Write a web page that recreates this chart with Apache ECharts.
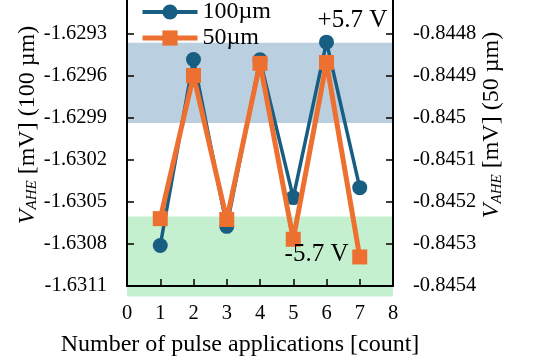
<!DOCTYPE html>
<html>
<head>
<meta charset="utf-8">
<script src="https://cdn.jsdelivr.net/npm/echarts@6/dist/echarts.min.js"></script>
<style>html,body{margin:0;padding:0;background:#fff}#c{width:536px;height:358px}</style>
</head>
<body>
<div id="c"></div>
<script>
const counts = [1, 2, 3, 4, 5, 6, 7];
const v100 = [-1.630811, -1.629486, -1.630675, -1.629487, -1.630470, -1.629362, -1.630399];
const v50 = [-0.845240, -0.844900, -0.845242, -0.844871, -0.845289, -0.844869, -0.845331];
const seriesNames = ['100\u00b5m', '50\u00b5m'];
// bands on the left axis: [xStart, xEnd, yLow, yHigh]
const bands = [
  [0, 8, -1.629938, -1.629367],
  [0, 8, -1.631175, -1.630604]
];
const bandColors = ['#bacfe0', '#c5f0cf'];
const notes = [
  {text: '+5.7 V', x: 6.78, y: -1.629205},
  {text: '-5.7 V', x: 5.70, y: -1.630875}
];
const leftAxis = {min: -1.6311, max: -1.628805, interval: 0.0003};
const rightAxis = {min: -0.8454, max: -0.844635, interval: 0.0001};

const FONT = 'Liberation Serif';
const BLUE = '#175e82', ORANGE = '#ed7031';
const chart = echarts.init(document.getElementById('c'));
const axisCommon = {
  axisLine: {show: true, lineStyle: {color: '#000', width: 2}},
  axisTick: {show: true, inside: true, length: 7, lineStyle: {color: '#000', width: 1.5}},
  splitLine: {show: false},
  axisLabel: {color: '#000', fontFamily: FONT, fontSize: 20.5, margin: 20, showMaxLabel: false},
  z: 5
};
const nameRich = {
  i: {fontStyle: 'italic', fontFamily: FONT, fontSize: 24, color: '#000'},
  sub: {fontStyle: 'italic', fontFamily: FONT, fontSize: 15, color: '#000', verticalAlign: 'bottom', padding: [8, 0, 0, 0]},
  n: {fontFamily: FONT, fontSize: 24, color: '#000'}
};
chart.setOption({
  animation: false,
  grid: {left: 127, right: 143, top: -36, bottom: 72, containLabel: false, outerBoundsMode: 'none'},
  legend: {
    orient: 'vertical', left: 135, top: -5, itemWidth: 55, itemHeight: 19, itemGap: 2,
    data: [
      {name: seriesNames[0], lineStyle: {width: 4, color: BLUE}},
      {name: seriesNames[1], lineStyle: {width: 5, color: ORANGE}}
    ],
    textStyle: {fontFamily: FONT, fontSize: 24, color: '#000', lineHeight: 24}
  },
  xAxis: Object.assign({}, axisCommon, {
    type: 'value', min: 0, max: 8, interval: 1,
    axisLabel: {color: '#000', fontFamily: FONT, fontSize: 20.5, margin: 17},
    name: 'Number of pulse applications [count]', nameLocation: 'middle', nameGap: 47,
    nameTextStyle: {fontFamily: FONT, fontSize: 24, color: '#000', padding: [0, 40, 0, 0]}
  }),
  yAxis: [
    Object.assign({}, axisCommon, {
      type: 'value', position: 'left', min: leftAxis.min, max: leftAxis.max, interval: leftAxis.interval,
      name: '{i|V}{sub|AHE}{n| [mV] (100 \u00b5m)}', nameLocation: 'middle', nameGap: 86,
      nameTextStyle: {rich: nameRich}
    }),
    Object.assign({}, axisCommon, {
      type: 'value', position: 'right', min: rightAxis.min, max: rightAxis.max, interval: rightAxis.interval,
      name: '{i|V}{sub|AHE}{n| [mV] (50 \u00b5m)}', nameLocation: 'middle', nameGap: 76,
      nameTextStyle: {rich: nameRich}
    })
  ],
  series: [
    {
      type: 'custom', yAxisIndex: 0, clip: false, z: 1, silent: true,
      data: bands,
      renderItem: function (params, api) {
        const p0 = api.coord([api.value(0), api.value(3)]);
        const p1 = api.coord([api.value(1), api.value(2)]);
        return {type: 'rect', shape: {x: p0[0], y: p0[1], width: p1[0] - p0[0], height: p1[1] - p0[1]},
          style: {fill: bandColors[params.dataIndex]}};
      }
    },
    {
      name: seriesNames[0], type: 'line', yAxisIndex: 0, z: 3,
      data: counts.map((c, i) => [c, v100[i]]),
      symbol: 'circle', symbolSize: 15,
      lineStyle: {color: BLUE, width: 3.5},
      itemStyle: {color: BLUE},
      markPoint: {
        symbol: 'circle', symbolSize: 0,
        label: {show: true, position: 'inside', formatter: p => p.name, fontFamily: FONT, fontSize: 25, color: '#000'},
        data: notes.map(n => ({name: n.text, coord: [n.x, n.y]}))
      }
    },
    {
      name: seriesNames[1], type: 'line', yAxisIndex: 1, z: 4,
      data: counts.map((c, i) => [c, v50[i]]),
      symbol: 'rect', symbolSize: 15,
      lineStyle: {color: ORANGE, width: 5},
      itemStyle: {color: ORANGE}
    }
  ]
});
</script>
</body>
</html>
